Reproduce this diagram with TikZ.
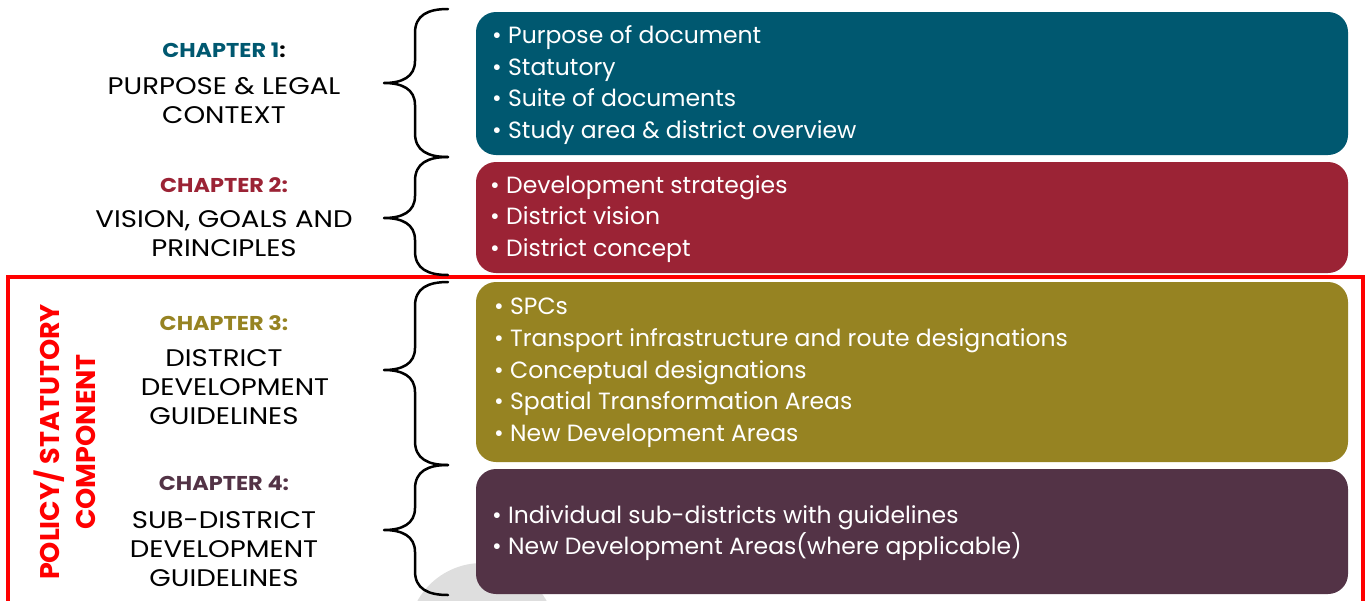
\documentclass[tikz,border=0pt]{standalone}
\usepackage{fontspec}
\setmainfont{Poppins}
\newfontfamily\widefont[FakeStretch=1.15]{Poppins}
\newfontfamily\headfont[FakeStretch=1.12]{Poppins}
\begin{document}
\definecolor{cteal}{RGB}{0,88,112}
\definecolor{ccrimson}{RGB}{155,35,53}
\definecolor{colive}{RGB}{150,131,34}
\definecolor{cplum}{RGB}{83,51,70}
\definecolor{cgrey}{RGB}{222,222,222}
\begin{tikzpicture}[x=1pt,y=-1pt,
  panel/.style={rounded corners=20pt},
  itemlist/.style={anchor=west,align=left,text=white,inner sep=0pt,
    font=\fontsize{23.5}{31.7}\selectfont},
  chead/.style={font=\headfont\fontsize{20}{22}\selectfont\bfseries,inner sep=0pt},
  cdesc/.style={align=center,inner sep=0pt,text=black,
    font=\widefont\fontsize{24}{29}\selectfont},
  sidelabel/.style={rotate=90,text=red,inner sep=0pt,
    font=\fontsize{27}{29}\selectfont\bfseries},
  bracepath/.style={draw=black,line width=2.5pt,line cap=round,line join=round}]
\useasboundingbox (0,0) rectangle (1366,600);
\begin{scope}
\clip (0,0) rectangle (1366,600);
% faint grey disc partly behind the lower panel
\fill[cgrey] (482,637) circle (74);
% coloured panels
\fill[cteal,panel]    (476,12)  rectangle (1348,155);
\fill[ccrimson,panel] (476,162) rectangle (1348,273);
\fill[colive,panel]   (476,282) rectangle (1348,462);
\fill[cplum,panel]    (476,469) rectangle (1348,594);
% red frame around the statutory chapters
\draw[red,line width=4pt] (8,277) rectangle (1363,603);
% curly braces: top, bottom, tip
\foreach \t/\b/\m in {9/157/83, 157/275/218, 282/465/370, 465/595/530}{
  \draw[bracepath] (448,\t) .. controls (428,\t) and (415,\t+6) .. (415,\t+24)
    -- (415,\m-22) .. controls (415,\m-6) and (402,\m) .. (384,\m)
    .. controls (402,\m) and (415,\m+6) .. (415,\m+22)
    -- (415,\b-24) .. controls (415,\b-6) and (428,\b) .. (448,\b);
}
\end{scope}
% chapter titles
\node[chead] (h1) at (224,50) {\textcolor{cteal}{CHAPTER 1}:};
\node[cdesc] (d1) at (224,101) {PURPOSE \& LEGAL\\CONTEXT};
\node[chead,text=ccrimson] (h2) at (224,185) {CHAPTER 2:};
\node[cdesc] (d2) at (224,234) {VISION, GOALS AND\\PRINCIPLES};
\node[chead,text=colive] (h3) at (224,323) {CHAPTER 3:};
\node[cdesc] (d3) at (224,387) {DISTRICT\\\hspace*{22pt}DEVELOPMENT\\GUIDELINES};
\node[chead,text=cplum] (h4) at (224,483) {CHAPTER 4:};
\node[cdesc] (d4) at (224,549) {SUB-DISTRICT\\DEVELOPMENT\\GUIDELINES};
% vertical label
\node[sidelabel] (s1) at (49,442) {POLICY/ STATUTORY};
\node[sidelabel] (s2) at (86,442) {COMPONENT};
% panel contents
\node[itemlist] (l1) at (492,85) {• Purpose of document\\• Statutory\\• Suite of documents\\• Study area \& district overview};
\node[itemlist] (l2) at (490,219) {• Development strategies\\• District vision\\• District concept};
\node[itemlist] (l3) at (494,373) {• SPCs\\• Transport infrastructure and route designations\\• Conceptual designations\\• Spatial Transformation Areas\\• New Development Areas};
\node[itemlist] (l4) at (492,533) {• Individual sub-districts with guidelines\\• New Development Areas(where applicable)};
\end{tikzpicture}
\end{document}
